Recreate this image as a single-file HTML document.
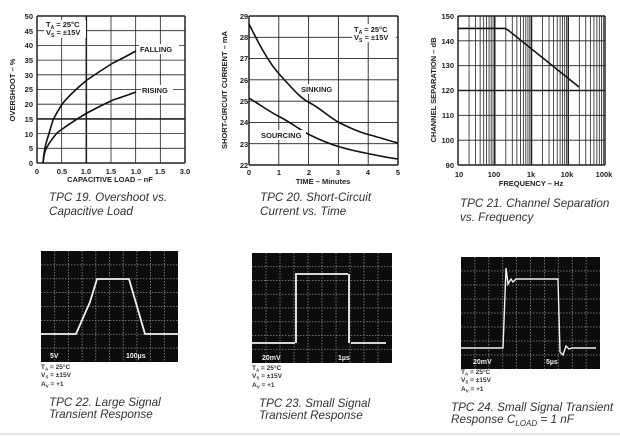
<!DOCTYPE html>
<html><head><meta charset="utf-8"><style>
body{margin:0;background:#fff;width:620px;height:436px;overflow:hidden}
svg{display:block}
.t{font-family:"Liberation Sans",sans-serif;font-size:7.5px;font-weight:bold;fill:#222}
.c{font-family:"Liberation Sans",sans-serif;font-size:11.7px;font-style:italic;fill:#333}
.s{font-family:"Liberation Sans",sans-serif;font-size:6.5px;font-weight:bold;fill:#333}
.w{font-family:"Liberation Sans",sans-serif;font-size:7px;font-weight:bold;fill:#eee}
</style></head><body>
<svg id="g" width="620" height="436" viewBox="0 0 620 436" xmlns="http://www.w3.org/2000/svg">
<g id="grids" stroke="#222" fill="none"></g>
<path d="M43,163 C44,150 46,143 47,140 C50,130 53,120 53,120 C58,110 63,103 63,103 C72,92 87,80 87,80 C100,71 113,63 113,63 C125,57 136,51 136,51" stroke="#111" stroke-width="1.6" fill="none"/>
<path d="M43,163 C44,153 46,148 47,147 C51,140 57,133 57,133 C70,123 87,113 87,113 C100,106 113,100 113,100 C125,96 136,92 136,92" stroke="#111" stroke-width="1.6" fill="none"/>
<rect x="139" y="44" width="40" height="10" fill="#fff"/><text x="140" y="52" class="t">FALLING</text>
<rect x="141" y="85" width="32" height="10" fill="#fff"/><text x="142" y="93" class="t">RISING</text>
<rect x="44" y="20" width="42" height="18" fill="#fff"/>
<text x="46" y="27" class="t">T<tspan font-size="5" dy="2">A</tspan><tspan dy="-2"> = 25°C</tspan></text>
<text x="46" y="35" class="t">V<tspan font-size="5" dy="2">S</tspan><tspan dy="-2"> = ±15V</tspan></text>
<g class="t" text-anchor="end">
<text x="33" y="19">50</text><text x="33" y="34">45</text><text x="33" y="48">40</text><text x="33" y="63">35</text><text x="33" y="78">30</text><text x="33" y="92">25</text><text x="33" y="107">20</text><text x="33" y="122">15</text><text x="33" y="137">10</text><text x="33" y="151">5</text><text x="33" y="166">0</text></g>
<g class="t" text-anchor="middle">
<text x="37" y="174">0</text><text x="62" y="174">0.5</text><text x="86" y="174">1.0</text><text x="111" y="174">1.5</text><text x="136" y="174">1.0</text><text x="160" y="174">1.5</text><text x="185" y="174">3.0</text>
<text x="110" y="182">CAPACITIVE LOAD – nF</text>
<text transform="translate(15,90) rotate(-90)">OVERSHOOT – %</text></g>
<text x="49" y="201" class="c">TPC 19.  Overshoot vs.</text>
<text x="49" y="215" class="c">Capacitive Load</text>
<path d="M249,24 C258,42 268,62 280,75 S300,98 310,103 S330,118 340,123 S362,133 370,135 S390,141 398,143" stroke="#111" stroke-width="1.6" fill="none"/>
<path d="M249,98 C262,106 270,112 280,117 S300,130 310,135 S330,144 340,147 S360,152 370,154 S390,158 398,159" stroke="#111" stroke-width="1.6" fill="none"/>
<rect x="300" y="84" width="38" height="10" fill="#fff"/><text x="301" y="92" class="t">SINKING</text>
<rect x="260" y="130" width="46" height="10" fill="#fff"/><text x="261" y="138" class="t">SOURCING</text>
<rect x="352" y="24" width="44" height="18" fill="#fff"/>
<text x="354" y="32" class="t">T<tspan font-size="5" dy="2">A</tspan><tspan dy="-2"> = 25°C</tspan></text>
<text x="354" y="40" class="t">V<tspan font-size="5" dy="2">S</tspan><tspan dy="-2"> = ±15V</tspan></text>
<g class="t" text-anchor="middle">
<text x="244" y="19">29</text><text x="244" y="40">28</text><text x="244" y="61">27</text><text x="244" y="83">26</text><text x="244" y="104">25</text><text x="244" y="125">24</text><text x="244" y="147">23</text><text x="244" y="168">22</text>
<text x="249" y="175">0</text><text x="279" y="175">1</text><text x="309" y="175">2</text><text x="338" y="175">3</text><text x="368" y="175">4</text><text x="398" y="175">5</text>
<text x="323" y="184">TIME – Minutes</text>
<text transform="translate(227,90) rotate(-90)">SHORT-CIRCUIT CURRENT – mA</text></g>
<text x="260" y="201" class="c">TPC 20.  Short-Circuit</text>
<text x="260" y="215" class="c">Current vs. Time</text>
<path d="M458,28.4 L505,28.4 L508,30 L579,87" stroke="#111" stroke-width="1.6" fill="none"/>
<g class="t" text-anchor="end">
<text x="454" y="19">150</text><text x="454" y="44">140</text><text x="454" y="68">130</text><text x="454" y="93">120</text><text x="454" y="118">110</text><text x="454" y="143">100</text><text x="454" y="168">90</text></g>
<g class="t" text-anchor="middle">
<text x="459" y="177">10</text><text x="494" y="177">100</text><text x="531" y="177">1k</text><text x="567" y="177">10k</text><text x="604" y="177">100k</text>
<text x="531" y="186">FREQUENCY – Hz</text>
<text transform="translate(436,90) rotate(-90)">CHANNEL SEPARATION – dB</text></g>
<text x="460" y="207" class="c">TPC 21.  Channel Separation</text>
<text x="460" y="221" class="c">vs. Frequency</text>
<rect x="41" y="251" width="137" height="111" fill="#0c0c0c"/>
<rect x="252" y="253" width="140" height="110" fill="#0c0c0c"/>
<rect x="461" y="257" width="139" height="112" fill="#0c0c0c"/>
<g id="sg" stroke="#8a8a8a" stroke-width="0.8" stroke-dasharray="1.5 1.5" fill="none"></g>
<g stroke="#f2f2f2" stroke-width="1.8" fill="none">
<path d="M41,334 L76,334 L90,302 L97,279 L129,279 L145,334 L178,334"/>
<path d="M252,343 L295,343 M296,343 L296,274 L348,274 M349,274 L349,343 M351,343 L386,343" />
<path d="M461,348 L503,348 L506,268 L508,284 L511,279 L513,282 L516,279 L558,279 L560,352 L563,355 L566,346 L569,349 L572,348 L596,348" stroke-width="1.4"/>
</g>
<g class="w"><text x="50" y="358">5V</text><text x="126" y="358">100µs</text>
<text x="262" y="360">20mV</text><text x="338" y="360">1µs</text>
<text x="473" y="364">20mV</text><text x="546" y="364">5µs</text></g>
<g class="s">
<text x="41" y="369">T<tspan font-size="4.5" dy="1.5">A</tspan><tspan dy="-1.5"> = 25°C</tspan></text>
<text x="41" y="377">V<tspan font-size="4.5" dy="1.5">S</tspan><tspan dy="-1.5"> = ±15V</tspan></text>
<text x="41" y="386">A<tspan font-size="4.5" dy="1.5">V</tspan><tspan dy="-1.5"> = +1</tspan></text>
<text x="252" y="370">T<tspan font-size="4.5" dy="1.5">A</tspan><tspan dy="-1.5"> = 25°C</tspan></text>
<text x="252" y="378">V<tspan font-size="4.5" dy="1.5">S</tspan><tspan dy="-1.5"> = ±15V</tspan></text>
<text x="252" y="387">A<tspan font-size="4.5" dy="1.5">V</tspan><tspan dy="-1.5"> = +1</tspan></text>
<text x="461" y="374">T<tspan font-size="4.5" dy="1.5">A</tspan><tspan dy="-1.5"> = 25°C</tspan></text>
<text x="461" y="382">V<tspan font-size="4.5" dy="1.5">S</tspan><tspan dy="-1.5"> = ±15V</tspan></text>
<text x="461" y="391">A<tspan font-size="4.5" dy="1.5">V</tspan><tspan dy="-1.5"> = +1</tspan></text></g>
<text x="49" y="406" class="c">TPC 22.  Large Signal</text>
<text x="49" y="418" class="c">Transient Response</text>
<text x="259" y="407" class="c">TPC 23.  Small Signal</text>
<text x="259" y="419" class="c">Transient Response</text>
<text x="451" y="411" class="c">TPC 24.  Small Signal Transient</text>
<text x="451" y="423" class="c">Response C<tspan font-size="8" dy="3">LOAD</tspan><tspan dy="-3"> = 1 nF</tspan></text>
<line x1="0" y1="434" x2="620" y2="434" stroke="#ccc" stroke-width="1"/>
</svg>
<script>
var NS="http://www.w3.org/2000/svg",G=document.getElementById("grids"),S=document.getElementById("sg");
function L(g,x1,y1,x2,y2,w){var l=document.createElementNS(NS,"line");l.setAttribute("x1",x1);l.setAttribute("y1",y1);l.setAttribute("x2",x2);l.setAttribute("y2",y2);if(w)l.setAttribute("stroke-width",w);g.appendChild(l);}
for(var i=0;i<=6;i++){var x=37+i*148/6;L(G,x,16,x,163,(i==0||i==6)?1.5:(i==2?1.6:0.8));}
for(var j=0;j<=10;j++){var y=16+j*14.7;L(G,37,y,185,y,(j==0||j==10)?1.5:(j==7?1.6:0.8));}
for(i=0;i<=5;i++){x=249+i*149/5;L(G,x,16,x,165,(i==0||i==5)?1.5:0.9);}
for(j=0;j<=7;j++){y=16+j*149/7;L(G,249,y,398,y,(j==0||j==7)?1.5:0.9);}
var D=36.75;
for(var d=0;d<4;d++)for(var m=1;m<=9;m++){x=458+D*(d+Math.log10(m));L(G,x,16,x,165,m==1?1.5:0.8);}
L(G,605,16,605,165,1.5);
for(j=0;j<=6;j++){y=16+j*149/6;L(G,458,y,605,y,(j==0||j==6||j==3)?1.5:0.9);}
[[41,251,137,111],[252,253,140,110],[461,257,139,112]].forEach(function(r){
for(var i=1;i<10;i++){var x=r[0]+i*r[2]/10;L(S,x,r[1],x,r[1]+r[3]);}
for(var j=1;j<8;j++){var y=r[1]+j*r[3]/8;L(S,r[0],y,r[0]+r[2],y);}
});
</script>
</body></html>
